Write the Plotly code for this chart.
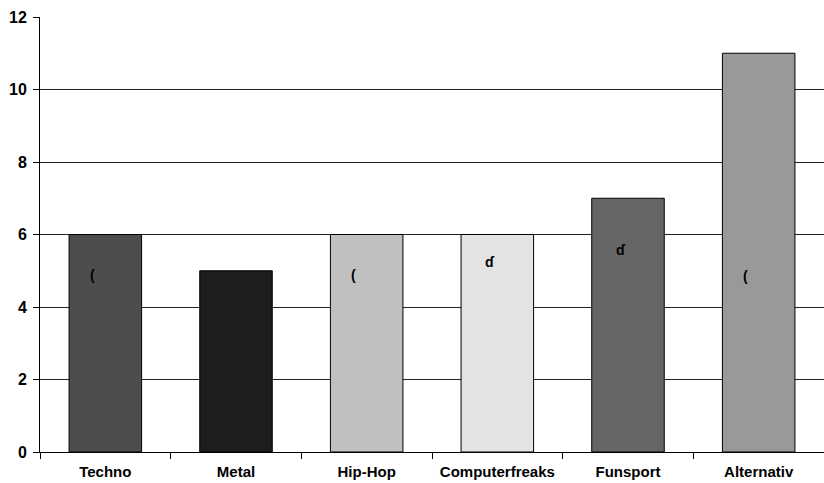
import plotly.graph_objects as go

# Survey results per music/scene group
categories = ["Techno", "Metal", "Hip-Hop", "Computerfreaks", "Funsport", "Alternativ"]
values = [6, 5, 6, 6, 7, 11]
bar_colors = ["#4d4d4d", "#1e1e1e", "#c0c0c0", "#e3e3e3", "#666666", "#999999"]
y_ticks = [0, 2, 4, 6, 8, 10, 12]

# small marker glyphs inside some bars (category, glyph, y, horizontal shift)
glyphs = [
    ("Techno", "(", 4.88, -13),
    ("Hip-Hop", "(", 4.88, -13),
    ("Computerfreaks", "ɗ", 5.24, -7),
    ("Funsport", "ɗ", 5.57, -7),
    ("Alternativ", "(", 4.85, -13),
]

font = "Liberation Sans, Arial, sans-serif"

fig = go.Figure(
    go.Bar(
        x=categories,
        y=values,
        marker=dict(color=bar_colors, line=dict(color="#000000", width=1)),
        width=0.555,
        hoverinfo="x+y",
    )
)

for cat, g, yv, dx in glyphs:
    fig.add_annotation(
        x=cat, y=yv, text=f"<b>{g}</b>", showarrow=False, xshift=dx,
        font=dict(family=font, size=14, color="#000000"),
    )

fig.update_layout(
    width=824,
    height=483,
    margin=dict(l=40, r=0, t=17, b=31),
    paper_bgcolor="#ffffff",
    plot_bgcolor="#ffffff",
    showlegend=False,
    font=dict(family=font, size=15, color="#000000"),
)

fig.update_xaxes(
    type="category",
    automargin=False,
    tickangle=0,
    showline=True, linecolor="#000000", linewidth=1,
    ticks="outside", ticklen=6, tickcolor="#000000", tickwidth=1,
    tickson="boundaries",
    ticklabelstandoff=6,
    tickfont=dict(family=font, size=15, color="#000000", weight="bold"),
    showgrid=False,
)

fig.update_yaxes(
    range=[0, 12],
    tickvals=y_ticks,
    automargin=False,
    showline=True, linecolor="#000000", linewidth=1,
    ticks="outside", ticklen=6, tickcolor="#000000", tickwidth=1,
    ticklabelstandoff=3,
    showgrid=True, gridcolor="#222222", gridwidth=1,
    zeroline=False,
    tickfont=dict(family=font, size=16, color="#000000", weight="bold"),
)

fig.write_html("out.html")
